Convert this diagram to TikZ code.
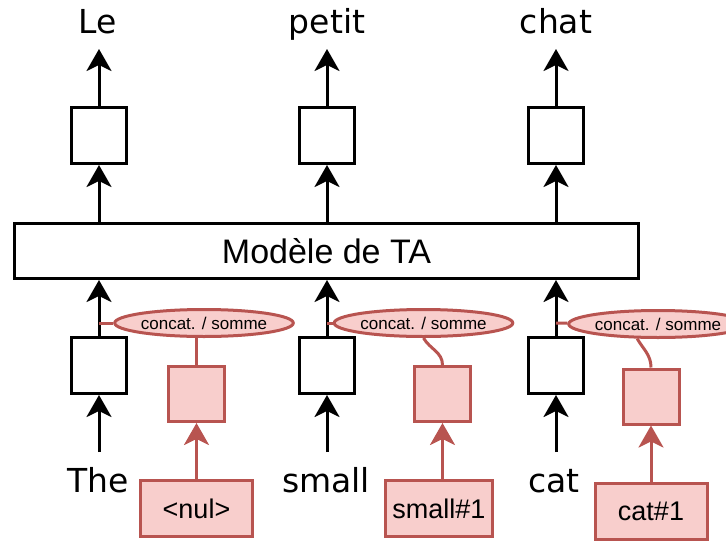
\documentclass[tikz,border=0pt]{standalone}
\usepackage{fontspec}
\setmainfont{Liberation Sans}
\newfontfamily\wordfont{DejaVu Sans}
\usetikzlibrary{arrows.meta,shapes.geometric,positioning}
\definecolor{redline}{HTML}{B85450}
\definecolor{redfill}{HTML}{F8CECC}

\begin{document}
\begin{tikzpicture}[x=1pt,y=-1pt,
        word/.style={anchor=base,inner sep=0pt,font=\wordfont\fontsize{33}{40}\selectfont},
        vec/.style={draw,line width=3pt,minimum width=55pt,minimum height=56pt,inner sep=0pt},
        model/.style={draw,line width=3pt,minimum width=624pt,minimum height=55pt,inner sep=0pt,font=\fontsize{34}{40}\selectfont},
        comb/.style={ellipse,draw=redline,fill=redfill,line width=3pt,minimum width=156pt,minimum height=27pt,inner sep=0pt,font=\fontsize{17}{20}\selectfont},
        emb/.style={draw=redline,fill=redfill,line width=3pt,minimum width=56pt,minimum height=55pt,inner sep=0pt},
        token/.style={draw=redline,fill=redfill,line width=3pt,minimum height=56pt,inner sep=0pt,font=\fontsize{27}{32}\selectfont},
        arr/.style={line width=3pt,-{Stealth[length=22pt,width=25pt,inset=6pt]}},
        redarr/.style={arr,draw=redline},
        link/.style={draw=redline,line width=3pt}]
        \useasboundingbox (0,0) rectangle (726,541);

        % Output words and their vectors
        \node[word] (le) at (98,33) {Le};
        \node[word] (petit) at (327,33) {petit};
        \node[word] (chat) at (556,33) {chat};
        \coordinate (o1) at (99,49);
        \coordinate (o2) at (327,49);
        \coordinate (o3) at (556,49);
        \node[vec] (tb1) at (99,135.5) {};
        \node[vec] (tb2) at (327,135.5) {};
        \node[vec] (tb3) at (556,135.5) {};

        \node[model] (model) at (326.5,251) {Modèle de TA};

        % Input words and their vectors
        \node[vec] (lb1) at (99,365.5) {};
        \node[vec] (lb2) at (327,365.5) {};
        \node[vec] (lb3) at (556,365.5) {};
        \node[word] (the) at (98,492) {The};
        \node[word] (small) at (326,492) {small};
        \node[word] (cat) at (554,492) {cat};
        \coordinate (i1) at (99,452);
        \coordinate (i2) at (327,452);
        \coordinate (i3) at (556,452);
        \coordinate (j1) at (99,323);
        \coordinate (j2) at (327,323);
        \coordinate (j3) at (556,323);

        % Extra factors
        \node[comb] (ell1) at (204,323) {concat. / somme};
        \node[comb] (ell2) at (423.5,323) {concat. / somme};
        \node[comb] (ell3) at (658,324) {concat. / somme};
        \node[emb] (pb1) at (196.5,394) {};
        \node[emb] (pb2) at (442.5,394) {};
        \node[emb] (pb3) at (651,396.5) {};
        \node[token,minimum width=112pt] (nul) at (196.5,508.5) {<nul>};
        \node[token,minimum width=107pt] (small1) at (439,508.5) {small\#1};
        \node[token,minimum width=112pt] (cat1) at (651,511) {cat\#1};

        \foreach \i in {1,2,3} {
            \draw[arr] (i\i) -- (lb\i);
            \draw[arr] (lb\i) -- (lb\i |- model.south);
            \draw[arr] (model.north -| tb\i) -- (tb\i);
            \draw[arr] (tb\i) -- (o\i);
            \draw[link] (j\i) -- (ell\i);
        }

        \draw[link] (ell1.south -| pb1) -- (pb1);
        \draw[link] (ell2.south) to[out=-60,in=90] (pb2.north);
        \draw[link] (ell3.-145) to[out=-60,in=90] (pb3.north);
        \draw[redarr] (nul) -- (pb1);
        \draw[redarr] (pb2 |- small1.north) -- (pb2);
        \draw[redarr] (cat1) -- (pb3);
    \end{tikzpicture}
\end{document}
